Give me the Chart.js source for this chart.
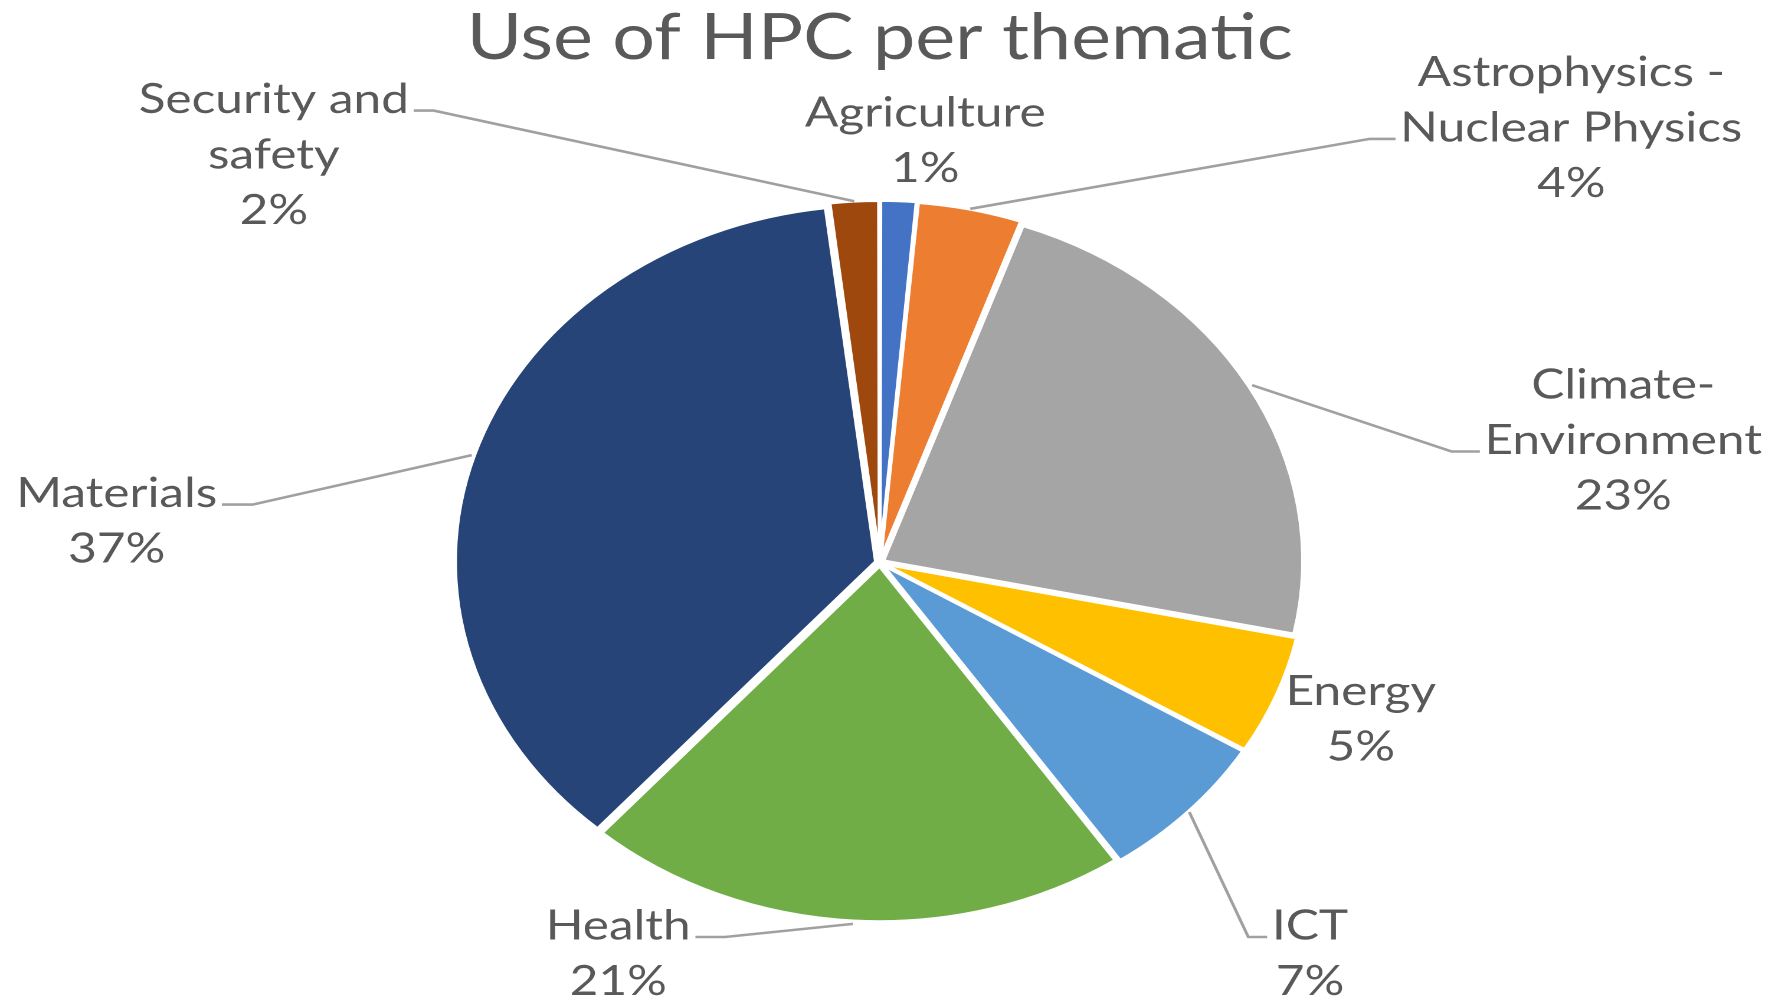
<!DOCTYPE html>
<html>
<head>
<meta charset="utf-8">
<title>Use of HPC per thematic</title>
<script src="https://cdn.jsdelivr.net/npm/chart.js@4.4.1/dist/chart.umd.min.js"></script>
<style>
  html, body { margin: 0; padding: 0; background: #ffffff; overflow: hidden; }
  #wrap { width: 1504px; height: 1001px; transform: scaleX(1.18019); transform-origin: 0 0; }
</style>
</head>
<body>
<div id="wrap"><canvas id="chart" width="1504" height="1001"></canvas></div>
<script>
// ---- data ----
const categories = ["Agriculture", "Astrophysics - Nuclear Physics", "Climate-Environment", "Energy", "ICT", "Health", "Materials", "Security and safety"];
const categoryLines = [["Agriculture"], ["Astrophysics -", "Nuclear Physics"], ["Climate-", "Environment"], ["Energy"], ["ICT"], ["Health"], ["Materials"], ["Security and", "safety"]];
const shares = [1.4, 4.0, 22.9, 5.4, 6.8, 21.0, 36.6, 1.9];
const chartTitle = "Use of HPC per thematic";

// ---- style ----
const sliceColors = ["#4472C4", "#ED7D31", "#A5A5A5", "#FFC000", "#5B9BD5", "#70AD47", "#264478", "#9E480E"];
const textColor = "#595959";
const leaderColor = "#A0A0A0";
const FONT = "Lato, 'Open Sans', sans-serif";
const LABEL_SIZE = 42;
const LINE_H = 55.5;
const SLICE_OFFSET = 14;   // Chart.js translates each slice by offset/4
// label block placement relative to pie centre (first line centre), leader attachment
const labelLayout = [
  { dx: 38.6,   dy: -449.6, side: null },
  { dx: 586,    dy: -490.2, side: "left",  attach: 1, seg: 22 },
  { dx: 630,    dy: -177.6, side: "left",  attach: 1, seg: 24 },
  { dx: 407.6,  dy: 129,    side: null },
  { dx: 364.6,  dy: 363.4,  side: "left",  attach: 0, seg: 16 },
  { dx: -221.6, dy: 363.4,  side: "right", attach: 0, seg: 25 },
  { dx: -646.6, dy: -69,    side: "right", attach: 0, seg: 26 },
  { dx: -513.4, dy: -463,   side: "right", attach: 0, seg: 17 }
];

const outsideLabels = {
  id: "outsideLabels",
  afterDatasetsDraw(chart) {
    const ctx = chart.ctx;
    const meta = chart.getDatasetMeta(0);
    const values = chart.data.datasets[0].data;
    const total = values.reduce((a, b) => a + b, 0);
    ctx.save();
    ctx.font = LABEL_SIZE + "px " + FONT;
    ctx.fillStyle = textColor;
    ctx.textAlign = "center";
    ctx.textBaseline = "middle";
    meta.data.forEach((arc, i) => {
      const p = arc.getProps(["x", "y", "startAngle", "endAngle", "outerRadius"], true);
      const L = labelLayout[i];
      const cx = p.x + L.dx, y0 = p.y + L.dy;
      const lines = categoryLines[i].concat([Math.round(values[i] / total * 100) + "%"]);
      lines.forEach((t, k) => ctx.fillText(t, cx, y0 + k * LINE_H));
      if (L.side) {
        const mid = (p.startAngle + p.endAngle) / 2;
        const r = p.outerRadius + SLICE_OFFSET / 4 + 3;
        const ax = p.x + Math.cos(mid) * r, ay = p.y + Math.sin(mid) * r;
        const w = ctx.measureText(lines[L.attach]).width;
        const ty = y0 + L.attach * LINE_H + 11;
        const tx = L.side === "right" ? cx + w / 2 + 4 : cx - w / 2 - 4;
        const ex = L.side === "right" ? tx + L.seg : tx - L.seg;
        ctx.beginPath();
        ctx.strokeStyle = leaderColor;
        ctx.lineWidth = 2.6;
        ctx.moveTo(ax, ay);
        ctx.lineTo(ex, ty);
        ctx.lineTo(tx, ty);
        ctx.stroke();
      }
    });
    ctx.restore();
  }
};

new Chart(document.getElementById("chart"), {
  type: "pie",
  data: {
    labels: categories,
    datasets: [{
      data: shares,
      backgroundColor: sliceColors,
      borderColor: "#ffffff",
      borderWidth: 3,
      offset: SLICE_OFFSET
    }]
  },
  options: {
    responsive: false,
    maintainAspectRatio: false,
    devicePixelRatio: 2,
    animation: false,
    layout: { padding: { top: 0, bottom: 74.4, left: 381.4, right: 394.6 } },
    plugins: {
      legend: { display: false },
      tooltip: { enabled: false },
      title: {
        display: true,
        text: chartTitle,
        color: textColor,
        font: { family: FONT, size: 64, weight: "normal", lineHeight: 1.2 },
        padding: { top: 0, bottom: 121.8 }
      }
    }
  },
  plugins: [outsideLabels]
});
</script>
</body>
</html>
